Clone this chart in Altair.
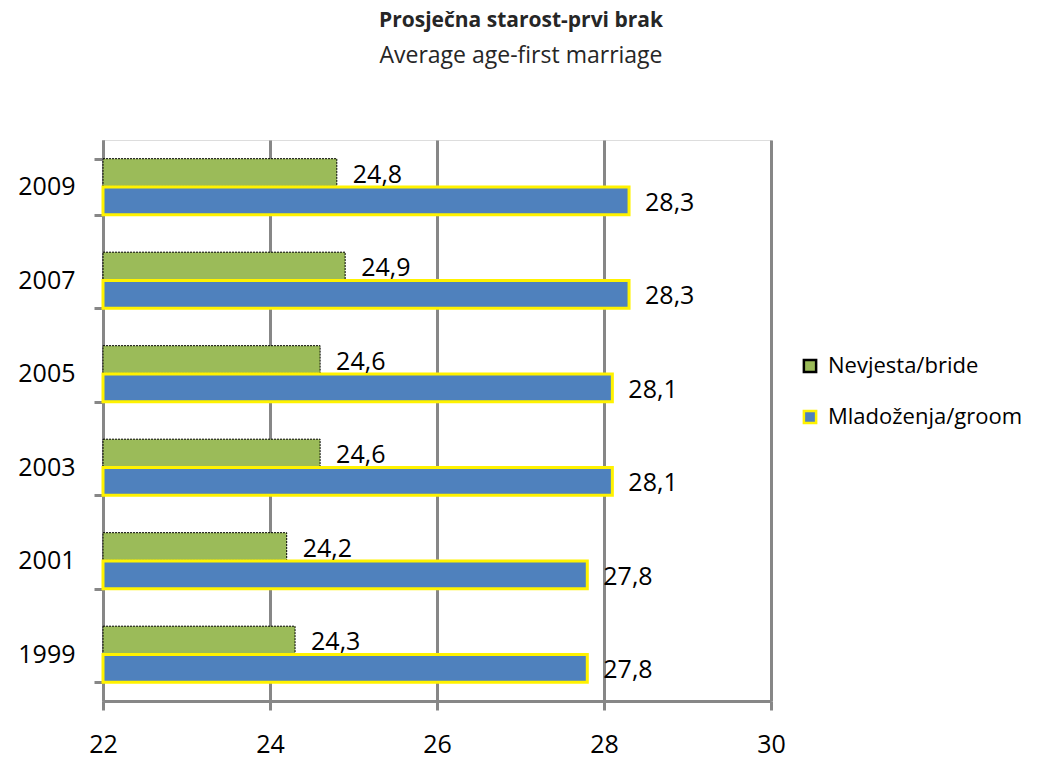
import altair as alt
import pandas as pd

years = ["2009", "2007", "2005", "2003", "2001", "1999"]
bride = [24.8, 24.9, 24.6, 24.6, 24.2, 24.3]
groom = [28.3, 28.3, 28.1, 28.1, 27.8, 27.8]
series_names = ["Nevjesta/bride", "Mladoženja/groom"]
x_ticks = [22, 24, 26, 28, 30]

rows = []
for y, b, g in zip(years, bride, groom):
    rows.append({"year": y, "series": series_names[0], "value": b})
    rows.append({"year": y, "series": series_names[1], "value": g})
df = pd.DataFrame(rows)

FONT = "Open Sans"
GRAY = "#878787"
NUM_SIZE = 25

base = alt.Chart(df).transform_calculate(
    label="replace(format(datum.value, '.1f'), '.', ',')"
)

y_enc = alt.Y(
    "year:N",
    sort=years,
    title=None,
    scale=alt.Scale(paddingInner=0.4, paddingOuter=0.2),
    axis=alt.Axis(
        tickBand="extent",
        tickSize=9,
        tickWidth=3,
        tickColor=GRAY,
        domainColor=GRAY,
        domainWidth=3,
        labelFont=FONT,
        labelFontSize=NUM_SIZE,
        labelColor="#000000",
        labelPadding=19,
        grid=False,
    ),
)
yoff_enc = alt.YOffset(
    "series:N", sort=series_names, scale=alt.Scale(domain=series_names, paddingInner=0.02)
)
x_enc = alt.X(
    "value:Q",
    title=None,
    scale=alt.Scale(domain=[22, 30], zero=False, nice=False),
    axis=alt.Axis(
        values=x_ticks,
        tickSize=9,
        tickWidth=3,
        tickColor=GRAY,
        domainColor=GRAY,
        domainWidth=3,
        grid=True,
        gridColor=GRAY,
        gridWidth=3,
        labelFont=FONT,
        labelFontSize=NUM_SIZE,
        labelColor="#000000",
        labelPadding=22,
        labelFlush=False,
    ),
)
fill_enc = alt.Fill(
    "series:N",
    scale=alt.Scale(domain=series_names, range=["#9BBB59", "#4F81BD"]),
    legend=alt.Legend(
        title=None,
        orient="none",
        legendX=696,
        legendY=215,
        symbolType="square",
        symbolSize=150,
        symbolStrokeWidth=2.5,
        labelFont=FONT,
        labelFontSize=22,
        labelColor="#000000",
        labelOffset=7,
        labelLimit=0,
        rowPadding=27,
        padding=0,
    ),
)
stroke_enc = alt.Stroke(
    "series:N",
    scale=alt.Scale(domain=series_names, range=["#000000", "#FFF200"]),
)

bride_bars = base.transform_filter(
    alt.datum.series == series_names[0]
).mark_bar(strokeWidth=1, strokeDash=[2, 1]).encode(
    y=y_enc, yOffset=yoff_enc, x=x_enc, x2=alt.datum(22), fill=fill_enc, stroke=stroke_enc
)
groom_bars = base.transform_filter(
    alt.datum.series == series_names[1]
).mark_bar(strokeWidth=3).encode(
    y=y_enc, yOffset=yoff_enc, x=x_enc, x2=alt.datum(22), fill=fill_enc, stroke=stroke_enc
)
labels = base.mark_text(
    align="left", baseline="middle", dx=16, dy=2, font=FONT, fontSize=NUM_SIZE, color="#000000"
).encode(y=y_enc, yOffset=yoff_enc, x=x_enc, text="label:N")

chart = alt.layer(bride_bars, groom_bars, labels).properties(
    width=668,
    height=561,
    padding={"left": 9, "top": 2, "right": 0, "bottom": 0},
    title=alt.TitleParams(
        text="Prosječna starost-prvi brak",
        subtitle="Average age-first marriage",
        font=FONT,
        fontSize=21,
        fontWeight="bold",
        color="#262626",
        subtitleFont=FONT,
        subtitleFontSize=23,
        subtitleColor="#262626",
        subtitlePadding=14,
        anchor="middle",
        frame="group",
        dx=84,
        offset=60,
    ),
).configure_view(stroke=None).configure(background="white")

chart.save("out.html", embed_options={"renderer": "svg", "actions": False})
